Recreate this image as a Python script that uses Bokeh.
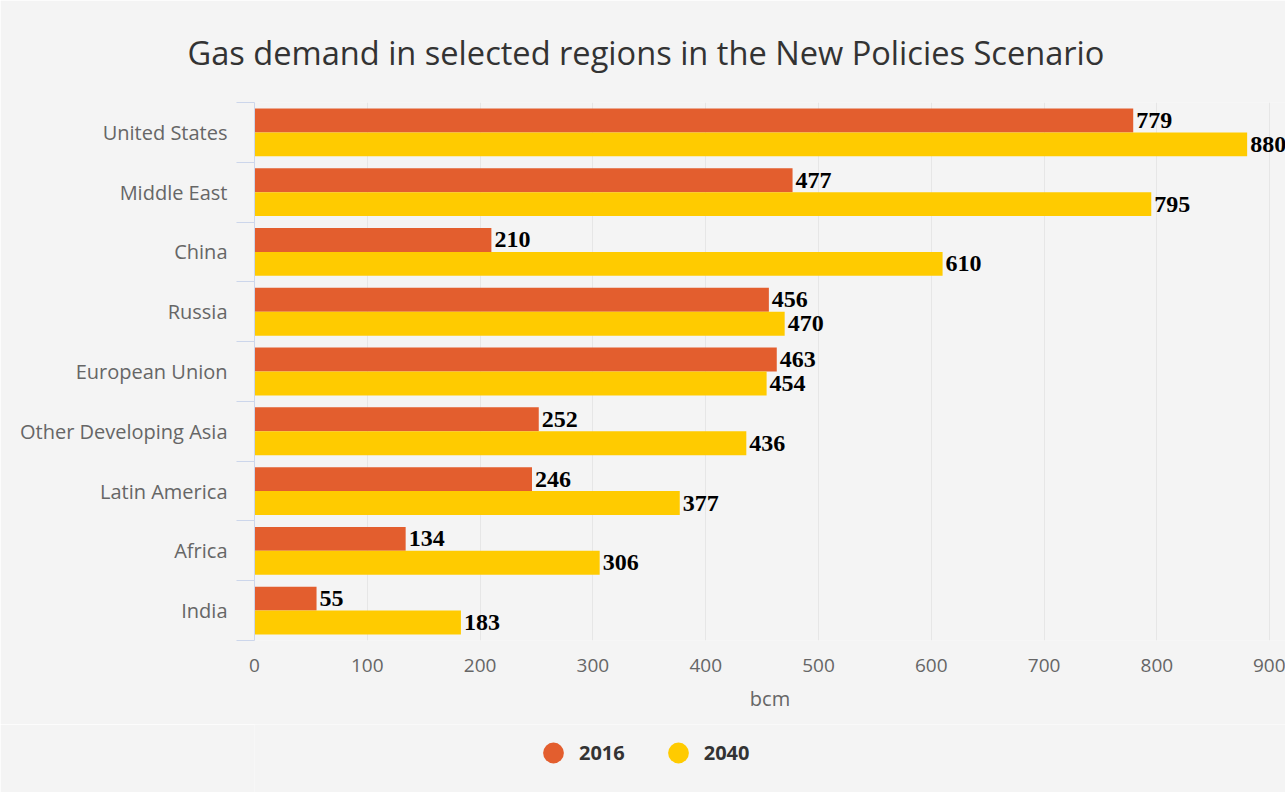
from bokeh.plotting import figure
from bokeh.layouts import column
from bokeh.models import (Range1d, LinearAxis, FixedTicker, ColumnDataSource,
                          LabelSet, Legend, LegendItem)
from bokeh.core.properties import value
from bokeh.transform import dodge
from bokeh.embed import file_html
from bokeh.resources import INLINE

# ---- data ----
regions = ["United States", "Middle East", "China", "Russia", "European Union",
           "Other Developing Asia", "Latin America", "Africa", "India"]
demand_2016 = [779, 477, 210, 456, 463, 252, 246, 134, 55]
demand_2040 = [880, 795, 610, 470, 454, 436, 377, 306, 183]
years = ["2016", "2040"]
x_ticks = [0, 100, 200, 300, 400, 500, 600, 700, 800, 900]
title_text = "Gas demand in selected regions in the New Policies Scenario"
x_label = "bcm"

n = len(regions)
category_pos = [n - i - 0.5 for i in range(n)]      # slot centre of each region (top to bottom)
category_bounds = list(range(n + 1))               # slot boundaries

ORANGE = "#e35e2e"
YELLOW = "#ffcb00"
BG = "#f4f4f4"
AXIS = "#ccd6eb"
LABEL = "#666666"

src = ColumnDataSource(dict(
    region=regions,
    pos=category_pos,
    v2016=demand_2016,
    v2040=demand_2040,
    t2016=[str(v) for v in demand_2016],
    t2040=[str(v) for v in demand_2040],
))

p = figure(width=1285, height=724,
           y_range=Range1d(0, n), x_range=Range1d(0, 914),
           y_axis_type=None,
           output_backend="svg", toolbar_location=None,
           min_border_left=254, min_border_right=0,
           min_border_top=100, min_border_bottom=84,
           background_fill_color=BG, border_fill_color=BG,
           outline_line_color=None)

y16 = dodge("pos", 0.2)
y40 = dodge("pos", -0.2)

p.hbar(y=y16, right="v2016", left=0, height=0.4, source=src,
       fill_color=ORANGE, line_color=None)
p.hbar(y=y40, right="v2040", left=0, height=0.4, source=src,
       fill_color=YELLOW, line_color=None)

lab_kw = dict(x_offset=3, text_baseline="middle", text_font=value("Liberation Serif"),
              text_font_style="bold", text_font_size="24px", text_color="#000000")
p.add_layout(LabelSet(x="v2016", y=y16, text="t2016", source=src, **lab_kw))
p.add_layout(LabelSet(x="v2040", y=y40, text="t2040", source=src, **lab_kw))

# title
p.title.text = title_text
p.title.text_font = "Open Sans"
p.title.text_font_size = "32.6px"
p.title.text_font_style = "normal"
p.title.text_color = "#333333"
p.title.align = "left"
p.title.offset = -67
p.title.standoff = 55

# grids
p.ygrid.visible = False
p.xgrid.grid_line_color = "#e6e6e6"
p.xgrid.grid_line_width = 1

# x axis
xa = p.xaxis[0]
xa.ticker = FixedTicker(ticks=x_ticks)
xa.axis_line_color = None
xa.major_tick_line_color = None
xa.minor_tick_line_color = None
xa.major_tick_out = 0
xa.major_tick_in = 0
xa.major_label_standoff = 18
xa.major_label_text_font = "Open Sans"
xa.major_label_text_font_size = "19px"
xa.major_label_text_color = LABEL
xa.axis_label = x_label
xa.axis_label_standoff = 10
xa.axis_label_text_font = "Open Sans"
xa.axis_label_text_font_size = "20px"
xa.axis_label_text_font_style = "normal"
xa.axis_label_text_color = LABEL

# category axis: labels at slot centres, boundary ticks as minor ticks
cat_axis = LinearAxis(ticker=FixedTicker(ticks=category_pos, minor_ticks=category_bounds),
                      major_label_overrides={pos: name for pos, name in zip(category_pos, regions)},
                      axis_line_color=AXIS, major_tick_line_color=None,
                      minor_tick_line_color=AXIS,
                      major_tick_out=0, major_tick_in=0,
                      minor_tick_out=18, minor_tick_in=0,
                      major_label_standoff=9,
                      major_label_text_font="Open Sans",
                      major_label_text_font_size="20px",
                      major_label_text_color=LABEL)
p.add_layout(cat_axis, "left")

# legend strip (separate small figure so that nothing is clipped)
lg = figure(width=1285, height=68, x_range=Range1d(0, 1), y_range=Range1d(0, 1),
            x_axis_type=None, y_axis_type=None,
            output_backend="svg", toolbar_location=None,
            min_border=0, min_border_left=254, outline_line_color=None,
            background_fill_color=BG, border_fill_color=BG)
lg.xgrid.visible = False
lg.ygrid.visible = False
# hidden proxies that carry the series colours into the legend
d1 = lg.scatter(x="v2016", y="pos", source=src, marker="circle",
                fill_color=ORANGE, line_color=None, visible=False)
d2 = lg.scatter(x="v2040", y="pos", source=src, marker="circle",
                fill_color=YELLOW, line_color=None, visible=False)
legend = Legend(items=[LegendItem(label=years[0], renderers=[d1]),
                       LegendItem(label=years[1], renderers=[d2])],
                orientation="horizontal", location=(273, 12.5),
                glyph_width=52, glyph_height=55, label_standoff=0, spacing=27,
                padding=0, margin=0, border_line_color=None,
                background_fill_alpha=0,
                label_text_font="Open Sans", label_text_font_style="bold",
                label_text_font_size="20px", label_text_color="#333333",
                label_text_baseline="middle")
lg.add_layout(legend, "center")

layout = column(p, lg, spacing=0)
open("out.html", "w").write(file_html(layout, INLINE))
